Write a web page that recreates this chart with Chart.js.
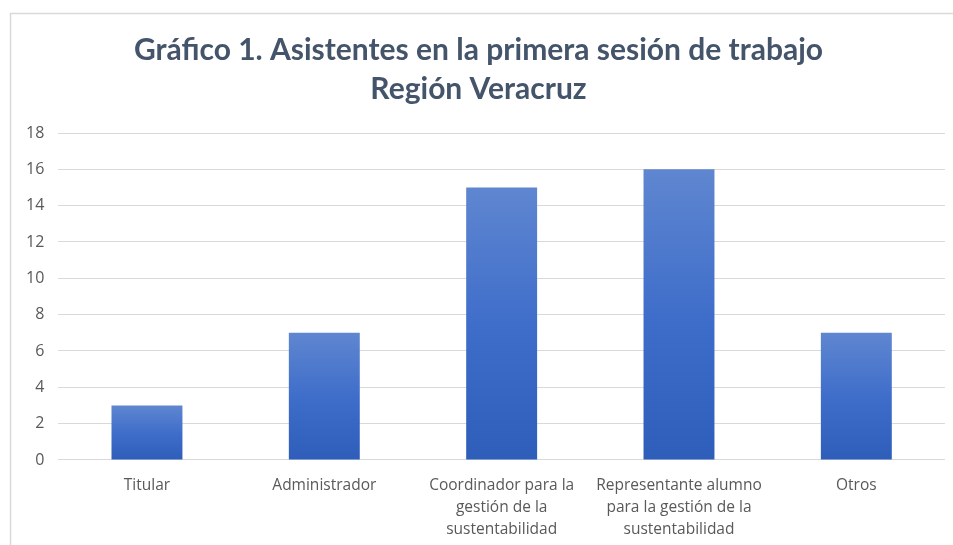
<!DOCTYPE html>
<html>
<head>
<meta charset="utf-8">
<script src="https://cdn.jsdelivr.net/npm/chart.js@4"></script>
<style>
html,body{margin:0;padding:0;background:#fff;overflow:hidden;}
#wrap{position:absolute;left:0;top:0;width:953px;height:545px;}
</style>
</head>
<body>
<div id="wrap"><canvas id="c" width="953" height="545"></canvas></div>
<script>
const categories = [
  "Titular",
  "Administrador",
  ["Coordinador para la", "gestión de la", "sustentabilidad"],
  ["Representante alumno", "para la gestión de la", "sustentabilidad"],
  "Otros"
];
const asistentes = [3, 7, 15, 16, 7];
const titleLines = ["Gráfico 1. Asistentes en la primera sesión de trabajo", "Región Veracruz"];
const yTicks = {min: 0, max: 18, step: 2};

const frame = {
  id: 'frame',
  beforeDraw(chart) {
    const c = chart.ctx;
    c.save();
    c.strokeStyle = '#d9d9d9';
    c.lineWidth = 1.5;
    c.strokeRect(10.5, 13.5, 1200, 1200);
    c.restore();
  }
};

new Chart(document.getElementById('c'), {
  type: 'bar',
  data: {
    labels: categories,
    datasets: [{
      data: asistentes,
      backgroundColor(ctx) {
        const chart = ctx.chart;
        if (!chart.chartArea || !chart.scales.y) return '#4472C4';
        const y = chart.scales.y;
        const top = y.getPixelForValue(ctx.raw);
        const bot = y.getPixelForValue(0);
        const g = chart.ctx.createLinearGradient(0, top, 0, bot);
        g.addColorStop(0, '#5F86D0');
        g.addColorStop(0.5, '#3F6ECA');
        g.addColorStop(1, '#2E5DBA');
        return g;
      },
      borderWidth: 0,
      categoryPercentage: 1,
      barPercentage: 0.4
    }]
  },
  options: {
    responsive: false,
    animation: false,
    devicePixelRatio: 1,
    layout: {padding: {left: 12, right: 8, top: 31, bottom: -3}},
    plugins: {
      legend: {display: false},
      tooltip: {enabled: false},
      title: {
        display: true,
        text: titleLines,
        color: '#44546A',
        font: {family: 'Lato', size: 30, weight: 'bold', lineHeight: 1.3},
        padding: {top: 0, bottom: 24}
      }
    },
    scales: {
      x: {
        grid: {display: false},
        border: {display: false},
        ticks: {
          color: '#595959',
          font: {family: 'Open Sans', size: 15.5, lineHeight: 1.42},
          maxRotation: 0,
          autoSkip: false,
          padding: 7
        }
      },
      y: {
        min: yTicks.min,
        max: yTicks.max,
        ticks: {
          stepSize: yTicks.step,
          color: '#595959',
          font: {family: 'Open Sans', size: 16},
          padding: 14
        },
        grid: {color: '#d9d9d9', lineWidth: 1, drawTicks: false},
        border: {display: false}
      }
    }
  },
  plugins: [frame]
});
</script>
</body>
</html>
